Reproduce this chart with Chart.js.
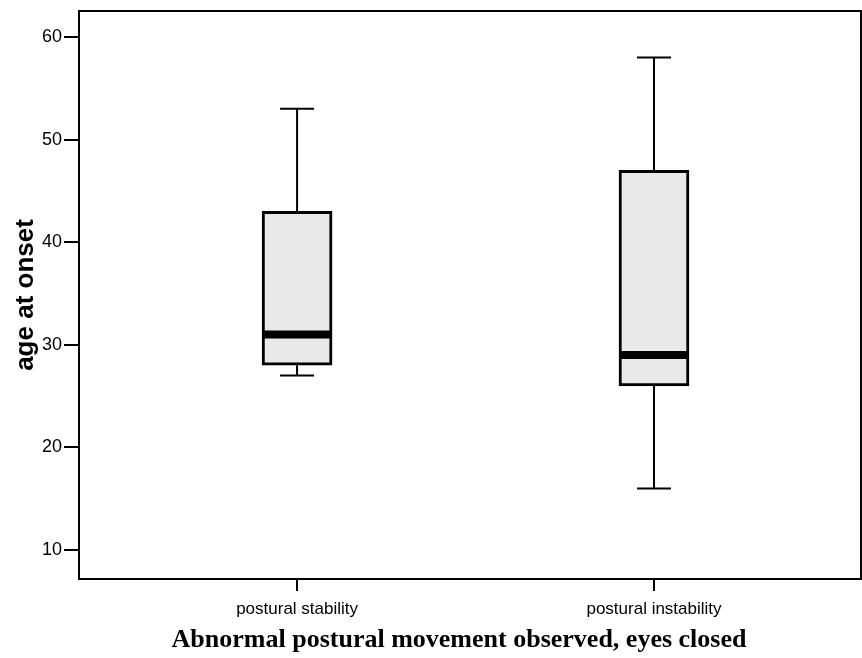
<!DOCTYPE html>
<html lang="en">
  <head>
    <meta charset="UTF-8" />
    <title>Age at onset boxplot</title>
    <script src="https://cdn.jsdelivr.net/npm/chart.js"></script>
    <style>
      body {
        margin: 0;
        background: #fff;
      }
    </style>
  </head>
  <body>
    <canvas id="boxChart" width="862" height="658"></canvas>

    <script>
      // data
      var categories = ["postural stability", "postural instability"];
      var positions = [1, 2];
      var whiskerLow = [27, 16];
      var q1 = [28, 26];
      var medians = [31, 29];
      var q3 = [43, 47];
      var whiskerHigh = [53, 58];
      var yTicks = [10, 20, 30, 40, 50, 60];
      var xTitle = "Abnormal postural movement observed, eyes closed";

      var boxData = positions.map(function (p, i) {
        return { x: p, y: [q1[i], q3[i]] };
      });

      // whiskers + median, placed through the chart scales
      var boxPlotPlugin = {
        id: "boxPlot",
        afterDatasetsDraw: function (chart) {
          var ctx = chart.ctx;
          var xs = chart.scales.x;
          var ys = chart.scales.y;
          var half = 35;
          var cap = 17;
          ctx.save();
          ctx.strokeStyle = "#000";
          for (var i = 0; i < positions.length; i++) {
            var px = xs.getPixelForValue(positions[i]);
            ctx.lineWidth = 2;
            ctx.beginPath();
            ctx.moveTo(px, ys.getPixelForValue(q3[i]));
            ctx.lineTo(px, ys.getPixelForValue(whiskerHigh[i]));
            ctx.moveTo(px, ys.getPixelForValue(q1[i]));
            ctx.lineTo(px, ys.getPixelForValue(whiskerLow[i]));
            ctx.moveTo(px - cap, ys.getPixelForValue(whiskerHigh[i]));
            ctx.lineTo(px + cap, ys.getPixelForValue(whiskerHigh[i]));
            ctx.moveTo(px - cap, ys.getPixelForValue(whiskerLow[i]));
            ctx.lineTo(px + cap, ys.getPixelForValue(whiskerLow[i]));
            ctx.stroke();
            // median
            ctx.lineWidth = 8;
            ctx.beginPath();
            ctx.moveTo(px - half + 1, ys.getPixelForValue(medians[i]));
            ctx.lineTo(px + half - 1, ys.getPixelForValue(medians[i]));
            ctx.stroke();
          }
          ctx.restore();
        },
        afterDraw: function (chart) {
          var a = chart.chartArea;
          var ctx = chart.ctx;
          ctx.save();
          ctx.strokeStyle = "#000";
          ctx.lineWidth = 2;
          ctx.strokeRect(a.left, a.top, a.right - a.left, a.bottom - a.top);
          // x title, sits a little left of centre in the original
          ctx.fillStyle = "#000";
          ctx.font = "bold 26px 'Liberation Serif'";
          ctx.textAlign = "center";
          ctx.textBaseline = "alphabetic";
          ctx.fillText(xTitle, (a.left + a.right) / 2 - 11, 647);
          ctx.restore();
        },
      };

      new Chart(document.getElementById("boxChart").getContext("2d"), {
        type: "bar",
        data: {
          datasets: [
            {
              data: boxData,
              backgroundColor: "#e9e9e9",
              borderColor: "#000",
              borderWidth: 3,
              borderSkipped: false,
              barThickness: 70,
            },
          ],
        },
        options: {
          responsive: false,
          animation: false,
          layout: { padding: { left: 0, top: 11, right: 1, bottom: 0 } },
          plugins: {
            legend: { display: false },
            tooltip: { enabled: false },
          },
          scales: {
            x: {
              type: "linear",
              offset: false,
              min: 0.389,
              max: 2.58,
              afterBuildTicks: function (scale) {
                scale.ticks = positions.map(function (v) {
                  return { value: v };
                });
              },
              afterFit: function (scale) {
                scale.height = 79;
                scale.paddingLeft = 0;
                scale.paddingRight = 0;
              },
              ticks: {
                color: "#000",
                font: { family: "Liberation Sans", size: 17 },
                padding: 8,
                maxRotation: 0,
                autoSkip: false,
                callback: function (v) {
                  return categories[positions.indexOf(v)];
                },
              },
              grid: {
                offset: false,
                drawOnChartArea: false,
                tickLength: 12,
                color: "#000",
                lineWidth: 2,
              },
              border: { color: "#000", width: 2 },
            },
            y: {
              min: 7.17,
              max: 62.53,
              afterBuildTicks: function (scale) {
                scale.ticks = yTicks.map(function (v) {
                  return { value: v };
                });
              },
              afterFit: function (scale) {
                scale.width = 79;
                scale.paddingTop = 0;
                scale.paddingBottom = 0;
              },
              ticks: {
                color: "#000",
                font: { family: "Liberation Sans", size: 18 },
                padding: 2,
              },
              grid: {
                drawOnChartArea: false,
                tickLength: 15,
                color: "#000",
                lineWidth: 2,
              },
              border: { color: "#000", width: 2 },
              title: {
                display: true,
                text: "age at onset",
                color: "#000",
                font: { family: "Liberation Sans", size: 26, weight: "bold" },
                padding: { top: 10, bottom: 0 },
              },
            },
          },
        },
        plugins: [boxPlotPlugin],
      });
    </script>
  </body>
</html>
